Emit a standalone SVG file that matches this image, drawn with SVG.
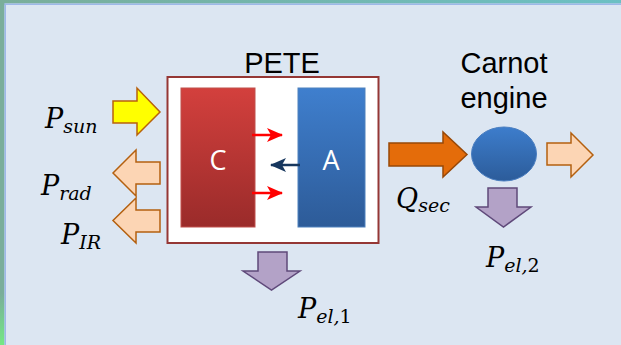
<svg xmlns="http://www.w3.org/2000/svg" width="621" height="345" viewBox="0 0 621 345">
  <defs>
    <linearGradient id="gradC" x1="0" y1="0" x2="0" y2="1">
      <stop offset="0" stop-color="#d3403d"/>
      <stop offset="1" stop-color="#9a2b2a"/>
    </linearGradient>
    <linearGradient id="gradA" x1="0" y1="0" x2="0" y2="1">
      <stop offset="0" stop-color="#3f7fce"/>
      <stop offset="1" stop-color="#2d5b98"/>
    </linearGradient>
    <linearGradient id="gradEng" x1="0" y1="0" x2="0" y2="1">
      <stop offset="0" stop-color="#3d7dcc"/>
      <stop offset="1" stop-color="#2c5c9a"/>
    </linearGradient>
    <linearGradient id="gradTop" x1="0" y1="0" x2="1" y2="0">
      <stop offset="0" stop-color="#7aae9a"/>
      <stop offset="1" stop-color="#6cc0c4"/>
    </linearGradient>
    <linearGradient id="gradLeft" x1="0" y1="0" x2="0" y2="1">
      <stop offset="0" stop-color="#7aae9a"/>
      <stop offset="0.85" stop-color="#7aae9a"/>
      <stop offset="1" stop-color="#74e884"/>
    </linearGradient>
    <marker id="headRed" viewBox="0 0 16 14" refX="15" refY="7" markerWidth="16" markerHeight="14" markerUnits="userSpaceOnUse" orient="auto">
      <path d="M0,0 L16,7 L0,14 L4,7 Z" fill="#ff0000"/>
    </marker>
    <marker id="headNavy" viewBox="0 0 16 14" refX="15" refY="7" markerWidth="16" markerHeight="14" markerUnits="userSpaceOnUse" orient="auto">
      <path d="M0,0 L16,7 L0,14 L4,7 Z" fill="#17375e"/>
    </marker>
  </defs>
  <style>
    .label { font-family: "Liberation Sans", Arial, sans-serif; font-size: 29px; fill: #000; text-anchor: middle; }
    .inner { font-family: "Open Sans", "Liberation Sans", sans-serif; font-size: 27px; fill: #ffffff; text-anchor: middle; }
    .math { font-family: "DejaVu Serif", "Liberation Serif", serif; font-style: italic; font-size: 27px; fill: #000; }
    .sub { font-size: 19px; }
    .num { font-style: normal; }
    .sunArrow { fill: #ffff00; stroke: #b8620c; stroke-width: 1.5; }
    .lossArrow { fill: #fcd5b4; stroke: #b4600f; stroke-width: 1.5; }
    .heatArrow { fill: #e46c0a; stroke: #984807; stroke-width: 1.5; }
    .elArrow { fill: #b3a2c7; stroke: #5f497a; stroke-width: 1.5; }
  </style>

  <!-- slide background and frame edges -->
  <rect x="0" y="0" width="621" height="345" fill="#dce6f2"/>
  <rect x="0" y="0" width="621" height="3.5" fill="url(#gradTop)"/>
  <rect x="0" y="3.5" width="621" height="1.5" fill="#9db8e8"/>
  <rect x="0" y="0" width="4.5" height="345" fill="url(#gradLeft)"/>
  <rect x="4.5" y="3.5" width="1.5" height="341.5" fill="#9db8e8"/>

  <!-- PETE device -->
  <g id="pete">
    <rect x="167.5" y="77" width="211" height="166" fill="#ffffff" stroke="#953735" stroke-width="2"/>
    <text class="label" x="282" y="73">PETE</text>
  </g>
  <g id="cathode">
    <rect x="181" y="88" width="74" height="139" fill="url(#gradC)" stroke="#c0504d" stroke-width="1"/>
    <text class="inner" x="218" y="170">C</text>
  </g>
  <g id="anode">
    <rect x="298" y="88" width="67" height="139" fill="url(#gradA)" stroke="#4f81bd" stroke-width="1"/>
    <text class="inner" x="331" y="170">A</text>
  </g>

  <!-- Carnot engine -->
  <g id="carnot">
    <ellipse cx="504" cy="154" rx="32.5" ry="27" fill="url(#gradEng)" stroke="#4a7ec0" stroke-width="1"/>
    <text class="label" x="504" y="73">Carnot</text>
    <text class="label" x="504" y="108">engine</text>
  </g>

  <!-- energy flows -->
  <g id="connectors">
    <line x1="252" y1="135" x2="282" y2="135" stroke="#ff0000" stroke-width="2.5" marker-end="url(#headRed)"/>
    <line x1="252" y1="193" x2="282" y2="193" stroke="#ff0000" stroke-width="2.5" marker-end="url(#headRed)"/>
    <line x1="300" y1="165" x2="271" y2="165" stroke="#17375e" stroke-width="2.5" marker-end="url(#headNavy)"/>

    <polygon class="sunArrow" points="113,101 137,101 137,88 160,112 137,135 137,123 113,123"/>
    <polygon class="lossArrow" points="160,162 136,162 136,150 113,173 136,196 136,184 160,184"/>
    <polygon class="lossArrow" points="160,210 136,210 136,198 113,220.5 136,243 136,232 160,232"/>
    <polygon class="heatArrow" points="389,143 443,143 443,132 467,154.5 443,177 443,166 389,166"/>
    <polygon class="lossArrow" points="547,143 571,143 571,133 593,155 571,177 571,165 547,165"/>
    <polygon class="elArrow" points="258,252 287,252 287,271 300,271 271.5,290 243,271 258,271"/>
    <polygon class="elArrow" points="488,188 517,188 517,207 531,207 503.5,227 476,207 488,207"/>
  </g>

  <!-- flow labels -->
  <g id="labels">
    <text class="math" x="45" y="128">P<tspan class="sub" dy="5">sun</tspan></text>
    <text class="math" x="41" y="195">P<tspan class="sub" dy="5">rad</tspan></text>
    <text class="math" x="61" y="244">P<tspan class="sub" dy="5">IR</tspan></text>
    <text class="math" x="396" y="208">Q<tspan class="sub" dy="4">sec</tspan></text>
    <text class="math" x="486" y="267">P<tspan class="sub" dy="5">el,<tspan class="num">2</tspan></tspan></text>
    <text class="math" x="298" y="318">P<tspan class="sub" dy="5">el,<tspan class="num">1</tspan></tspan></text>
  </g>
</svg>
